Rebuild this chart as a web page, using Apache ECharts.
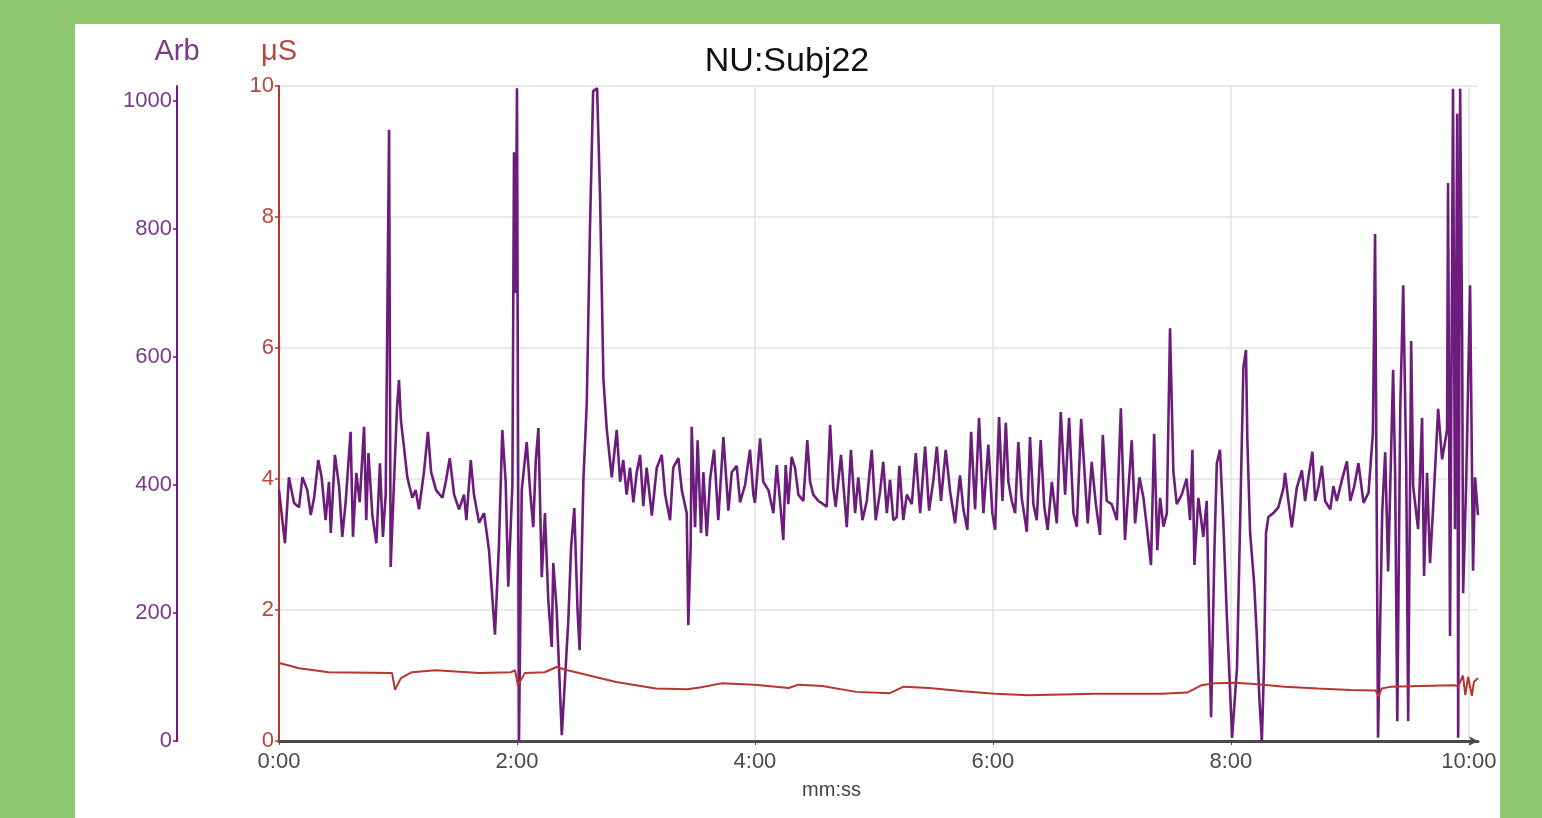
<!DOCTYPE html>
<html>
<head>
<meta charset="utf-8">
<script src="https://cdn.jsdelivr.net/npm/echarts@6/dist/echarts.min.js"></script>
<style>
  html, body { margin: 0; padding: 0; width: 1542px; height: 818px; background: #8dc76e; overflow: hidden; }
  #panel { position: absolute; left: 75px; top: 24px; width: 1425px; height: 794px; background: #ffffff; }
  #chart { width: 1425px; height: 794px; }
</style>
</head>
<body>
<div id="panel"><div id="chart"></div></div>
<script>
// ---- data (time in seconds) ----
const title = 'NU:Subj22';
const xTickSeconds = [0, 120, 240, 360, 480, 600];
const arbTicks = [0, 200, 400, 600, 800, 1000];
const usTicks = [0, 2, 4, 6, 8, 10];

// purple series (Arb)
const arbData = [
 [0,392],[3,309],[5,412],[7.6,372],[10.1,365],[11.8,412],[14.3,392],[16,353],[17.7,380],[19.8,439],
 [21.5,412],[23.5,345],[25.2,405],[26.1,325],[28.2,447],[30.3,398],[31.9,319],[33.6,373],[36.1,483],[37.3,319],
 [39,419],[40.7,373],[42.9,491],[44,345],[45.1,450],[47.1,352],[49.1,309],[50.9,434],[52.4,319],[53.8,385],
 [55.5,955],[56.3,272],[58,405],[59.5,520],[60.5,564],[61.5,500],[63,460],[64.7,412],[67.2,380],[68.9,392],
 [70.6,362],[73.1,420],[75.1,483],[76.7,420],[79.2,392],[82.4,380],[84.1,405],[86.1,442],[88.3,385],[90.8,362],
 [93.3,385],[94.5,345],[96.7,439],[98.3,385],[100.9,341],[103.4,356],[105.9,298],[108.9,166],[110.9,306],[112.6,486],
 [114.3,405],[115.6,241],[117.7,400],[118.5,920],[119.3,700],[120,1020],[121,0],[122.4,392],[124.9,467],[126.6,392],
 [128.2,334],[129.5,439],[130.8,489],[132.5,256],[134.1,356],[135.8,220],[137.5,147],[138.3,278],[140,206],[142.6,9],
 [144.2,95],[145.9,189],[147.3,303],[148.9,364],[150.6,200],[151.6,142],[153.5,408],[155.2,528],[156.8,800],[158.4,1015],
 [160.4,1020],[161.9,850],[163.6,564],[165.3,486],[167.8,412],[170.3,486],[172,405],[173.6,439],[175.3,385],[177,427],
 [178.7,373],[180.4,420],[182.1,447],[183.7,367],[185.4,427],[188,352],[190.5,427],[193,447],[194.7,385],[197.2,345],
 [198.8,427],[201.4,442],[203.1,392],[205.6,356],[206.4,181],[207.6,308],[208.1,491],[209.8,334],[211.1,470],[212.8,325],
 [214,420],[215.7,320],[217.4,410],[219.4,455],[221.5,345],[224.1,475],[226.6,360],[228.3,420],[230.8,430],[232.5,373],
 [235,400],[237.5,455],[239.2,385],[240,372],[242.6,473],[244.2,405],[246.8,392],[249.3,356],[251,431],[252.7,373],
 [254.3,314],[255.5,431],[256.8,370],[258.5,444],[260.2,427],[261.9,385],[264.4,375],[266.4,470],[267.8,405],[269.4,385],
 [272,375],[274.5,370],[276.2,366],[277.9,494],[279.5,395],[280.7,366],[283.4,447],[286.3,334],[288.4,455],[290.5,356],
 [292.1,412],[294.2,345],[296.4,375],[298.9,455],[300.9,345],[303.1,390],[304.7,436],[306.5,356],[308.1,408],[309.8,345],
 [311.5,350],[312.8,430],[314.8,345],[316.6,385],[319.1,370],[321.1,450],[323.3,356],[325.8,460],[327.8,360],[330,408],
 [331.7,460],[333.8,375],[336.2,455],[338.4,390],[340.9,340],[343.4,415],[345.1,362],[347.1,330],[349,483],[351,362],
 [353,505],[355.2,356],[357.7,463],[359.7,356],[361.1,330],[363.1,506],[364.8,375],[366.5,497],[367.8,405],[369.5,375],
 [371.2,356],[372.8,467],[374.5,380],[377.1,327],[378.7,475],[380.4,370],[382.1,345],[384.1,470],[385.9,366],[387.6,330],
 [389.7,405],[392.2,340],[394.2,514],[396.4,385],[398.4,505],[400.6,356],[402.3,335],[404.5,503],[406.5,405],[407.8,340],
 [409.8,436],[411.9,370],[414,322],[415.4,478],[417.4,375],[419.9,370],[422.5,345],[424.5,520],[426.6,314],[430,470],
 [431.7,340],[433.9,412],[435.9,380],[437.6,335],[439.7,275],[441.3,480],[442.9,298],[444.3,380],[446,335],[447.7,356],
 [449.3,645],[451,420],[452.7,370],[455.2,385],[457.7,410],[459.4,345],[460.6,455],[461.6,275],[463.6,380],[466.1,319],
 [467.8,375],[470,37],[471.7,300],[472.9,434],[474.5,455],[476.2,340],[477.9,200],[480.6,5],[483.1,116],[485.6,481],
 [486.3,584],[487.6,611],[488.3,470],[489.7,325],[491.7,247],[493,169],[494.4,64],[495.6,0],[496.7,116],[497.7,325],
 [498.9,350],[501.4,356],[503.9,365],[506.5,395],[507.3,419],[509,375],[510.7,334],[513.2,395],[515.8,423],[517.4,375],
 [519.1,412],[521.1,452],[522.5,375],[524.2,398],[525.9,430],[527.5,375],[530.1,362],[531.7,398],[533.4,375],[536,408],
 [538.5,437],[540.2,375],[542.2,398],[544.3,434],[546.9,372],[549.4,388],[551.6,481],[552.7,792],[554.2,5],[556.3,358],
 [557.8,451],[559.3,265],[561.8,580],[562.8,420],[563.9,31],[565.4,519],[566.9,712],[568.4,431],[569.4,31],[570.9,625],
 [571.9,398],[574.4,331],[576.4,505],[577.4,258],[578.9,419],[580.4,278],[582,366],[584.5,519],[586.5,440],[589,486],
 [589.5,872],[590.5,164],[592,1019],[593,331],[594.1,980],[594.6,5],[595.6,1019],[596.6,633],[597.1,231],[598.6,398],
 [600.6,712],[602.1,266],[603.1,412],[604.6,353]
];

// red series (μS)
const scData = [
 [0,1.19],[5.5,1.15],[10,1.11],[17.7,1.08],[25,1.05],[57,1.04],[58.5,0.78],[61.5,0.96],[67,1.05],[79,1.08],
 [101,1.04],[117,1.05],[119,1.08],[120.5,0.85],[124,1.04],[134,1.05],[140,1.13],[145.5,1.08],[170,0.9],[190,0.8],
 [206,0.79],[213,0.82],[223,0.88],[240,0.86],[257,0.81],[262,0.86],[274,0.84],[291,0.75],[308,0.73],[315,0.83],
 [328,0.81],[345,0.76],[361,0.72],[378,0.7],[411,0.72],[445,0.72],[458,0.74],[465,0.85],[472,0.88],[482,0.89],
 [492,0.87],[507,0.83],[524,0.8],[540,0.78],[553,0.77],[554.5,0.68],[556,0.8],[561,0.83],[575,0.84],[593,0.85],
 [594.6,0.83],[597,1.0],[598.2,0.7],[599.6,0.98],[601.5,0.69],[602.5,0.9],[604.6,0.96]
];

const xMax = 604.6;
const arbMax = 1023.4;

const purple = '#6c1d7c';
const purpleText = '#7a3a8c';
const red = '#b8362d';
const redText = '#b5483f';
const font = '"Liberation Sans", Arial, sans-serif';

function mmss(s) {
  const m = Math.floor(s / 60), ss = Math.round(s % 60);
  return m + ':' + (ss < 10 ? '0' : '') + ss;
}

const chart = echarts.init(document.getElementById('chart'), null, { renderer: 'canvas' });
chart.setOption({
  animation: false,
  textStyle: { fontFamily: font },
  title: {
    text: title, left: 707, top: 16, textAlign: 'center',
    textStyle: { fontFamily: font, fontSize: 34, fontWeight: 'normal', color: '#111' }
  },
  grid: { left: 204, top: 62, right: 22, bottom: 77, containLabel: false },
  xAxis: {
    type: 'value', min: 0, max: xMax,
    name: 'mm:ss', nameLocation: 'middle', nameGap: 39,
    nameTextStyle: { fontFamily: font, fontSize: 20, color: '#444', padding: [0, 94, 0, 0] },
    axisLine: { show: true, onZero: false, lineStyle: { color: '#4a4a4a', width: 3 }, symbol: ['none', 'arrow'], symbolSize: [7, 9] },
    axisTick: { show: true, length: 4, customValues: xTickSeconds, lineStyle: { color: '#4a4a4a' } },
    axisLabel: { customValues: xTickSeconds, formatter: v => mmss(v), color: '#4a4a4a', fontSize: 22, margin: 10, fontFamily: font },
    splitLine: { show: true, lineStyle: { color: '#e3e3e3', width: 1.5 } }
  },
  yAxis: [
    {
      type: 'value', min: 0, max: 10, interval: 2, position: 'left',
      name: 'μS', nameLocation: 'end', nameGap: 20,
      nameTextStyle: { fontFamily: font, fontSize: 29, color: redText, align: 'center' },
      axisLine: { show: true, onZero: false, lineStyle: { color: red, width: 2 } },
      axisTick: { show: true, length: 4, lineStyle: { color: red, width: 1.5 } },
      axisLabel: { color: redText, fontSize: 22, margin: 5, fontFamily: font },
      splitLine: { show: true, lineStyle: { color: '#e3e3e3', width: 1.5 } }
    },
    {
      type: 'value', min: 0, max: arbMax, position: 'left', offset: 102,
      name: 'Arb', nameLocation: 'end', nameGap: 20,
      nameTextStyle: { fontFamily: font, fontSize: 29, color: purpleText, align: 'center' },
      axisLine: { show: true, onZero: false, lineStyle: { color: purple, width: 2 } },
      axisTick: { show: true, length: 4, customValues: arbTicks, lineStyle: { color: purple, width: 1.5 } },
      axisLabel: { customValues: arbTicks, formatter: v => String(v), color: purpleText, fontSize: 22, margin: 5, fontFamily: font },
      splitLine: { show: false }
    }
  ],
  series: [
    {
      name: 'μS', type: 'line', yAxisIndex: 0, data: scData, showSymbol: false, smooth: false,
      lineStyle: { color: red, width: 2 }, z: 3
    },
    {
      name: 'Arb', type: 'line', yAxisIndex: 1, data: arbData, showSymbol: false, smooth: false,
      lineStyle: { color: purple, width: 2.6 }, z: 2, clip: true
    }
  ]
});
</script>
</body>
</html>
